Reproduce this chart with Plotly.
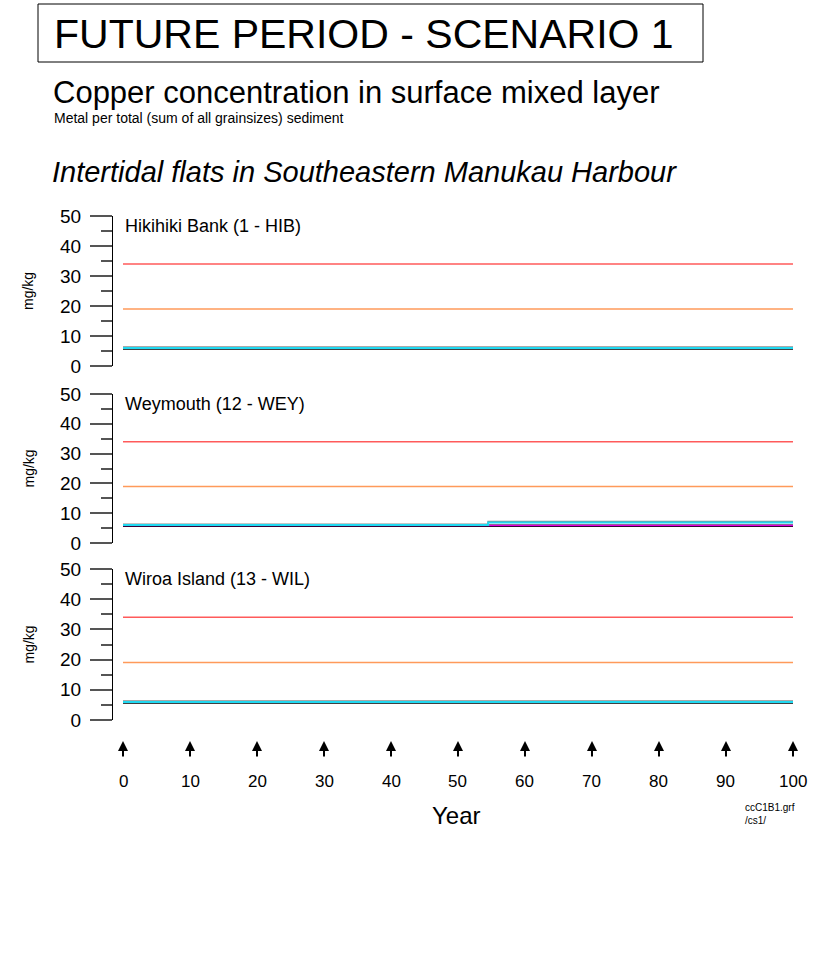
import plotly.graph_objects as go

W, H = 821, 970

# ---- data ----
years = [0, 54.5, 100]
sites = ["Hikihiki Bank (1 - HIB)", "Weymouth (12 - WEY)", "Wiroa Island (13 - WIL)"]
black_vals = [[5.8, 5.8, 5.8], [5.8, 5.8, 5.8], [5.8, 5.8, 5.8]]
magenta_vals = [[5.9, 5.9, 5.9], [5.9, 5.9, 5.9], [5.9, 5.9, 5.9]]
cyan_vals = [[6.0, 6.0, 6.0], [6.0, 6.9, 6.9], [6.0, 6.0, 6.0]]
grey_vals = [[6.3, 6.3, 6.3], [6.3, 7.2, 7.2], [6.3, 6.3, 6.3]]
upper_guideline = 34
lower_guideline = 19
x_ticks = [0, 10, 20, 30, 40, 50, 60, 70, 80, 90, 100]
y_ticks = [0, 10, 20, 30, 40, 50]

FONT = "Arial, Liberation Sans, sans-serif"

def px(x):
    return x / W

def py(y):
    return 1 - y / H

panels = [(216, 366), (394, 543), (569, 720)]
x_dom = [px(113), px(795)]
x_rng = [-1.4925, 100.3]

fig = go.Figure()
layout = dict(
    width=W, height=H, margin=dict(l=0, r=0, t=0, b=0, autoexpand=False),
    paper_bgcolor="white", plot_bgcolor="white", showlegend=False,
    font=dict(family=FONT, color="black"),
)

annotations = []
shapes = []
for i, (top, bot) in enumerate(panels):
    n = i + 1
    xa = "x" if n == 1 else f"x{n}"
    ya = "y" if n == 1 else f"y{n}"
    xkey = "xaxis" if n == 1 else f"xaxis{n}"
    ykey = "yaxis" if n == 1 else f"yaxis{n}"
    layout[xkey] = dict(domain=x_dom, range=x_rng, visible=False, anchor=ya, automargin=False)
    layout[ykey] = dict(
        domain=[py(bot), py(top)], range=[0, 50], anchor=xa, automargin=False,
        showline=True, linecolor="black", linewidth=1,
        ticks="outside", ticklen=22, tickwidth=1.5, tickcolor="#555555",
        tickvals=y_ticks, showgrid=False, zeroline=False,
        tickfont=dict(size=19, family=FONT, color="black"),
        ticklabelstandoff=5,
        minor=dict(ticks="outside", ticklen=11, tickwidth=1.5, tickcolor="#555555",
                   dtick=5, tick0=0, showgrid=False),
    )
    # guidelines
    fig.add_trace(go.Scatter(x=[0, 100], y=[upper_guideline, upper_guideline], mode="lines",
                             line=dict(color="#ff5a5a", width=1.5), xaxis=xa, yaxis=ya))
    fig.add_trace(go.Scatter(x=[0, 100], y=[lower_guideline, lower_guideline], mode="lines",
                             line=dict(color="#ff9a5a", width=1.5), xaxis=xa, yaxis=ya))
    # data series
    fig.add_trace(go.Scatter(x=years, y=black_vals[i], mode="lines", line_shape="hv",
                             line=dict(color="black", width=2.5), xaxis=xa, yaxis=ya))
    fig.add_trace(go.Scatter(x=years, y=magenta_vals[i], mode="lines", line_shape="hv",
                             line=dict(color="#e000e0", width=1.5), xaxis=xa, yaxis=ya))
    fig.add_trace(go.Scatter(x=years, y=grey_vals[i], mode="lines", line_shape="hv",
                             line=dict(color="#8c8c8c", width=1.5), xaxis=xa, yaxis=ya))
    fig.add_trace(go.Scatter(x=years, y=cyan_vals[i], mode="lines", line_shape="hv",
                             line=dict(color="#20d8f0", width=2), xaxis=xa, yaxis=ya))
    annotations.append(dict(text=sites[i], x=px(123), y=py(top + 10), xref="paper", yref="paper",
                            xanchor="left", yanchor="middle", showarrow=False,
                            font=dict(size=18, family=FONT)))
    annotations.append(dict(text="mg/kg", x=px(28), y=py((top + bot) / 2), xref="paper",
                            yref="paper", xanchor="center", yanchor="middle", showarrow=False,
                            textangle=-90, font=dict(size=14, family=FONT)))

# x tick arrows and labels (bottom panel axis)
for t in x_ticks:
    annotations.append(dict(text="", x=t, y=py(741), xref="x3", yref="paper",
                            showarrow=True, ax=0, ay=17, arrowhead=2, arrowsize=1,
                            arrowwidth=2, arrowcolor="black"))
    annotations.append(dict(text=str(t), x=t, y=py(781), xref="x3", yref="paper",
                            xanchor="center", yanchor="middle", showarrow=False,
                            font=dict(size=17, family=FONT)))

annotations += [
    dict(text="Year", x=px(457), y=py(815), xref="paper", yref="paper", showarrow=False,
         xanchor="center", yanchor="middle", font=dict(size=24, family=FONT)),
    dict(text="ccC1B1.grf<br>/cs1/", x=px(743), y=py(814), xref="paper", yref="paper",
         showarrow=False, xanchor="left", yanchor="middle", align="left",
         font=dict(size=10, family=FONT)),
    dict(text="FUTURE PERIOD - SCENARIO 1", x=px(52), y=py(34), xref="paper", yref="paper",
         showarrow=False, xanchor="left", yanchor="middle", font=dict(size=41, family=FONT)),
    dict(text="Copper concentration in surface mixed layer", x=px(51), y=py(92), xref="paper",
         yref="paper", showarrow=False, xanchor="left", yanchor="middle",
         font=dict(size=31, family=FONT)),
    dict(text="Metal per total (sum of all grainsizes) sediment", x=px(52), y=py(118), xref="paper",
         yref="paper", showarrow=False, xanchor="left", yanchor="middle",
         font=dict(size=14, family=FONT)),
    dict(text="<i>Intertidal flats in Southeastern Manukau Harbour</i>", x=px(50), y=py(172),
         xref="paper", yref="paper", showarrow=False, xanchor="left", yanchor="middle",
         font=dict(size=29, family=FONT)),
]
shapes.append(dict(type="rect", xref="paper", yref="paper", x0=px(38), x1=px(703),
                   y0=py(62), y1=py(4), line=dict(color="black", width=1)))

layout["annotations"] = annotations
layout["shapes"] = shapes
fig.update_layout(**layout)
fig.write_html("out.html", config={"displayModeBar": False},
               post_script="document.body.style.margin='0';")
